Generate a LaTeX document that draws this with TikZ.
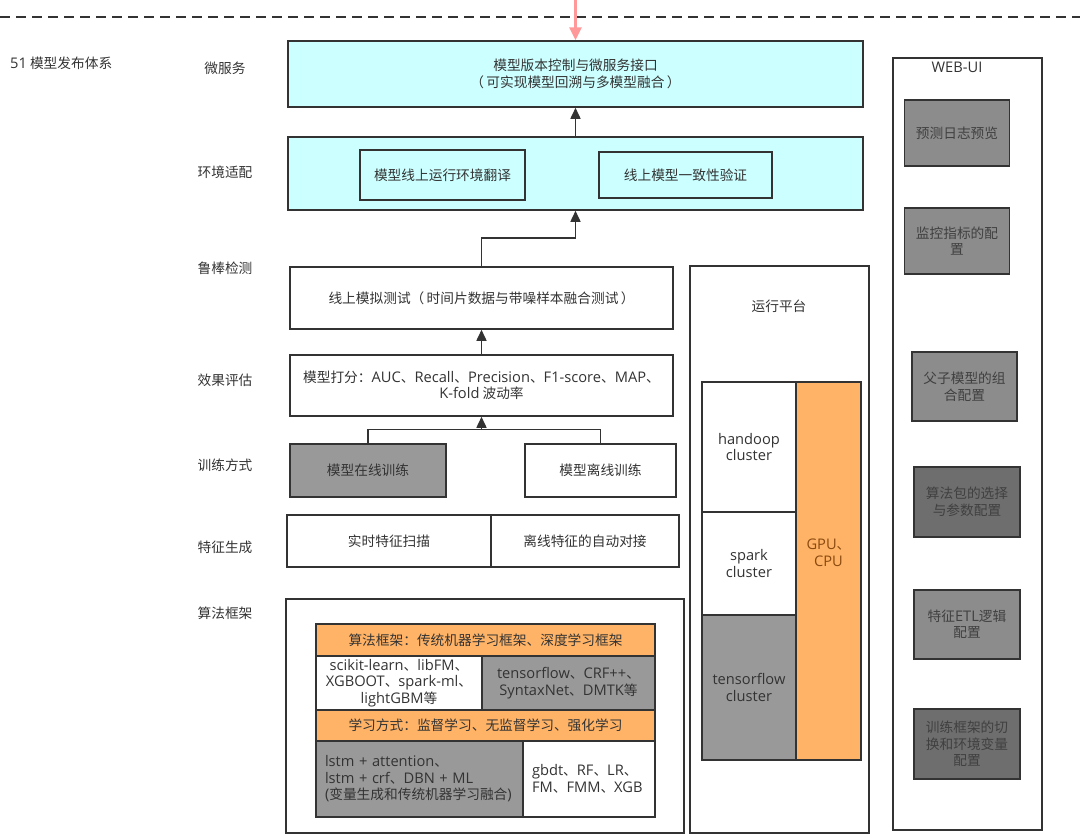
\documentclass[tikz,border=0pt]{standalone}
\usepackage{fontspec}
\setmainfont{Noto Sans CJK SC}
\newfontfamily\lat[Scale=1.07]{Open Sans}
\newcommand\LA[1]{{\lat #1}}
\usetikzlibrary{arrows.meta}
\definecolor{edge}{HTML}{333333}
\definecolor{txt}{HTML}{333333}
\definecolor{cyanf}{HTML}{CCFFFF}
\definecolor{orangef}{HTML}{FFB366}
\definecolor{grayf}{HTML}{999999}
\definecolor{webl}{HTML}{8C8C8C}
\definecolor{webd}{HTML}{6E6E6E}
\definecolor{pinkarr}{HTML}{FF9999}
\definecolor{gputxt}{HTML}{8A4A10}
\tikzset{
  box/.style={draw=edge, line width=1.5pt, inner sep=0pt, align=center, text=txt,
    font=\fontsize{13.7}{16.5}\selectfont},
  lbl/.style={inner sep=0pt, text=txt, font=\fontsize{13.7}{16.5}\selectfont},
  arr/.style={draw=edge, line width=1.5pt, -{Triangle[width=10pt,length=11pt]}},
  link/.style={draw=edge, line width=1.5pt},
  webbox/.style={box, fill=webl, text=black!75},
}
\begin{document}
\begin{tikzpicture}[x=1pt,y=-1pt]
\useasboundingbox (0,0) rectangle (1080,838);
% dashed top line
\draw[edge, line width=1.4pt, dash pattern=on 10pt off 6pt] (0,17) -- (1080,17);
% title and row labels
\node[lbl, anchor=west] (title) at (10,63) {\LA{51} 模型发布体系};
\node[lbl] (l1) at (225,68) {微服务};
\node[lbl] (l2) at (225,172) {环境适配};
\node[lbl] (l3) at (225,268) {鲁棒检测};
\node[lbl] (l4) at (225,380) {效果评估};
\node[lbl] (l5) at (225,465) {训练方式};
\node[lbl] (l6) at (225,547) {特征生成};
\node[lbl] (l7) at (225,613) {算法框架};
% micro service
\node[box, fill=cyanf, minimum width=575pt, minimum height=66pt] (micro) at (575.5,74)
  {模型版本控制与微服务接口\\（\,可实现模型回溯与多模型融合\,）};
\coordinate (ptop) at (575.5,0);
\draw[pinkarr, line width=3pt, -{Triangle[width=12pt,length=13pt]}] (ptop) -- (micro.north);
% env adapt
\node[box, fill=cyanf, minimum width=575pt, minimum height=73pt] (env) at (575.5,173.5) {};
\node[box, fill=cyanf, minimum width=165pt, minimum height=50pt] (env1) at (442.5,175) {模型线上运行环境翻译};
\node[box, fill=cyanf, minimum width=173pt, minimum height=46pt] (env2) at (685.5,175) {线上模型一致性验证};
\draw[arr] (env.north) -- (micro.south);
% robust
\node[box, fill=white, minimum width=383pt, minimum height=62pt] (robust) at (481.5,298)
  {线上模拟测试（\,时间片数据与带噪样本融合测试\,）};
\coordinate (j1) at (481.5,238);
\draw[arr] (robust.north) -- (j1) -| (env.south);
% eval
\node[box, fill=white, minimum width=383pt, minimum height=61pt] (eval) at (481.5,385.5)
  {模型打分：\LA{AUC}、\LA{Recall}、\LA{Precision}、\LA{F1-score}、\LA{MAP}、\\\LA{K-fold} 波动率};
\draw[arr] (eval.north) -- (robust.south);
% training
\node[box, fill=grayf, minimum width=156pt, minimum height=53pt] (online) at (368,470.5) {模型在线训练};
\node[box, fill=white, minimum width=151pt, minimum height=53pt] (offline) at (600.5,470.5) {模型离线训练};
\coordinate (j2) at (481.5,430);
\draw[link] (online.north) -- ++(0,-14) -| (offline.north);
\draw[arr] (j2) -- (eval.south);
% feature
\node[box, fill=white, minimum width=204pt, minimum height=52pt] (feat1) at (389,541) {实时特征扫描};
\node[box, fill=white, minimum width=188pt, minimum height=52pt] (feat2) at (585,541) {离线特征的自动对接};
% algorithm frame
\node[box, fill=white, minimum width=398pt, minimum height=234pt] (algo) at (485,716) {};
\node[box, fill=orangef, minimum width=339pt, minimum height=32pt] (ah1) at (485.5,640) {算法框架：传统机器学习框架、深度学习框架};
\node[box, fill=white, minimum width=166pt, minimum height=54pt] (a11) at (399,683)
  {\LA{scikit-learn}、\LA{libFM}、\\\LA{XGBOOT}、\LA{spark-ml}、\\\LA{lightGBM}等};
\node[box, fill=grayf, minimum width=173pt, minimum height=54pt] (a12) at (568.5,683)
  {\LA{tensorflow}、\LA{CRF++}、\\\LA{SyntaxNet}、\LA{DMTK}等};
\node[box, fill=orangef, minimum width=339pt, minimum height=31pt] (ah2) at (485.5,725.5) {学习方式：监督学习、无监督学习、强化学习};
\node[box, fill=grayf, minimum width=207pt, minimum height=76pt, align=left, text width=189pt] (a21) at (419.5,779)
  {\LA{lstm + attention}、\\\LA{lstm + crf}、\LA{DBN + ML}\\\LA{(}变量生成和传统机器学习融合\LA{)}};
\node[box, fill=white, minimum width=132pt, minimum height=76pt, align=left, text width=114pt] (a22) at (589,779)
  {\LA{gbdt}、\LA{RF}、\LA{LR}、\\\LA{FM}、\LA{FMM}、\LA{XGB}};
% platform
\node[box, fill=white, minimum width=179pt, minimum height=567pt] (plat) at (779.5,549.5) {};
\node[lbl] (platl) at (779,306) {运行平台};
\node[box, fill=white, minimum width=94pt, minimum height=130pt] (hadoop) at (749,447) {\LA{handoop}\\\LA{cluster}};
\node[box, fill=white, minimum width=94pt, minimum height=103pt] (spark) at (749,563.5) {\LA{spark}\\\LA{cluster}};
\node[box, fill=grayf, minimum width=94pt, minimum height=145pt] (tf) at (749,687.5) {\LA{tensorflow}\\\LA{cluster}};
\node[box, fill=orangef, minimum width=65pt, minimum height=378pt] (gpu) at (828.5,571) {};
\node[lbl, align=center, text=gputxt] (gput) at (828.5,553) {\LA{GPU}、\\\LA{CPU}};
% web-ui
\node[box, fill=white, minimum width=149pt, minimum height=772pt] (web) at (967.5,444) {};
\node[lbl] (webl) at (957,67) {\LA{WEB-UI}};
\node[webbox, minimum width=105pt, minimum height=66pt] (w1) at (957,133) {预测日志预览};
\node[webbox, minimum width=105pt, minimum height=66pt] (w2) at (957,241) {监控指标的配\\置};
\node[webbox, minimum width=105pt, minimum height=69pt] (w3) at (964.5,386.5) {父子模型的组\\合配置};
\node[webbox, fill=webd, minimum width=106pt, minimum height=70pt] (w4) at (967,502) {算法包的选择\\与参数配置};
\node[webbox, minimum width=106pt, minimum height=69pt] (w5) at (967,624.5) {特征\LA{ETL}逻辑\\配置};
\node[webbox, fill=webd, minimum width=106pt, minimum height=70pt] (w6) at (967,744) {训练框架的切\\换和环境变量\\配置};
\end{tikzpicture}
\end{document}
